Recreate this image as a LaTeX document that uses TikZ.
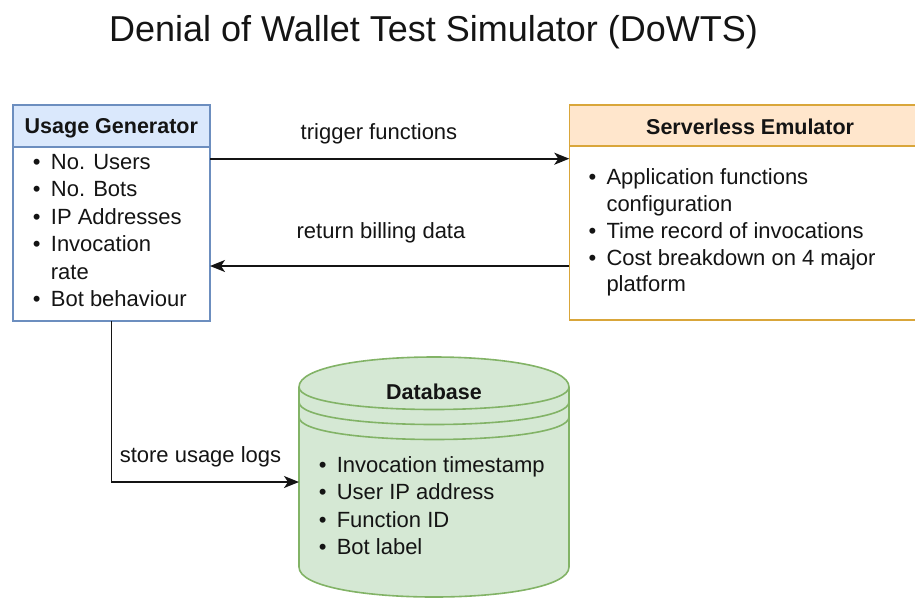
\documentclass[tikz,border=0pt]{standalone}
\usepackage{fontspec}
\setmainfont{Liberation Sans}
\usetikzlibrary{arrows.meta}

\definecolor{ugfill}{HTML}{DAE8FC}
\definecolor{ugline}{HTML}{6C8EBF}
\definecolor{sefill}{HTML}{FFE6CC}
\definecolor{seline}{HTML}{D9A63A}
\definecolor{dbfill}{HTML}{D5E8D4}
\definecolor{dbline}{HTML}{82B366}
\definecolor{ink}{HTML}{141414}

% bullet and continuation indent for list lines
\newcommand\lbul{\makebox[18pt][l]{•}}
\newcommand\lcont{\hspace*{18pt}}

\begin{document}
\begin{tikzpicture}[x=1pt,y=-1pt,
  every node/.style={inner sep=0pt, outer sep=0pt, text=ink},
  titletxt/.style={font=\fontsize{36}{40}\selectfont},
  txt/.style={font=\fontsize{22}{27}\selectfont},
  hdr/.style={font=\fontsize{21.5}{27}\selectfont\bfseries},
  box/.style={draw, line width=1.6pt, fill=white},
  arr/.style={draw=ink, line width=1.6pt, -{Stealth[length=15pt,width=12pt,inset=4pt]}}]

\clip (0,0) rectangle (915,606);

% title
\node[titletxt, anchor=base] (title) at (433.5,41.7) {Denial of Wallet Test Simulator (DoWTS)};

% usage generator
\node[box, draw=ugline, minimum width=197.3pt, minimum height=216pt] (ug) at (111.35,213) {};
\node[box, draw=ugline, fill=ugfill, minimum width=197.3pt, minimum height=42pt, anchor=north] (ughead) at (ug.north) {};
\node[hdr, anchor=base] (ugtitle) at (111.35,133.3) {Usage Generator};
\foreach \t [count=\i] in {\lbul No. Users, \lbul No. Bots, \lbul IP Addresses,
                           \lbul Invocation, \lcont rate, \lbul Bot behaviour}
  \node[txt, anchor=base west] (ug\i) at (32.9,{169+27.5*(\i-1)}) {\t};

% serverless emulator
\node[box, draw=seline, minimum width=361.7pt, minimum height=215pt] (se) at (750.15,212.5) {};
\node[box, draw=seline, fill=sefill, minimum width=361.7pt, minimum height=41pt, anchor=north] (sehead) at (se.north) {};
\node[hdr, anchor=base] (setitle) at (750.15,134.3) {Serverless Emulator};
\foreach \t [count=\i] in {\lbul Application functions, \lcont configuration,
                           \lbul Time record of invocations, \lbul Cost breakdown on 4 major,
                           \lcont platform}
  \node[txt, anchor=base west] (se\i) at (588.5,{184.3+26.9*(\i-1)}) {\t};

% database cylinder
\node[minimum width=270pt, minimum height=240pt] (db) at (434,477) {};
\begin{scope}[shift={(db.north west)}]
  \draw[dbline, fill=dbfill, line width=1.6pt]
    (0,30) .. controls (0,-10) and (270,-10) .. (270,30)
    -- (270,210) .. controls (270,250) and (0,250) .. (0,210) -- cycle;
  \foreach \s in {0,15,30}
    \draw[dbline, line width=1.6pt]
      (0,30+\s) .. controls (0,60+\s) and (270,60+\s) .. (270,30+\s);
\end{scope}
\node[hdr, anchor=base] (dbtitle) at (434,399.3) {Database};
\foreach \t [count=\i] in {\lbul Invocation timestamp, \lbul User IP address,
                           \lbul Function ID, \lbul Bot label}
  \node[txt, anchor=base west] (db\i) at (318.8,{472.7+27.2*(\i-1)}) {\t};

% connectors
\draw[arr] ([yshift=-53.7pt]ug.north east) -- ([yshift=-53.7pt]se.north west);
\draw[arr] ([yshift=-161pt]se.north west) -- ([yshift=-161pt]ug.north east);
\coordinate (dbin) at ([yshift=-5pt]db.west);
\draw[arr] (ug.south) |- (dbin);

% connector labels
\node[txt, anchor=base] (lbltrig) at (379,139) {trigger functions};
\node[txt, anchor=base] (lblbill) at (381,238) {return billing data};
\node[txt, anchor=base] (lblstore) at (200.5,462.7) {store usage logs};
\end{tikzpicture}
\end{document}
